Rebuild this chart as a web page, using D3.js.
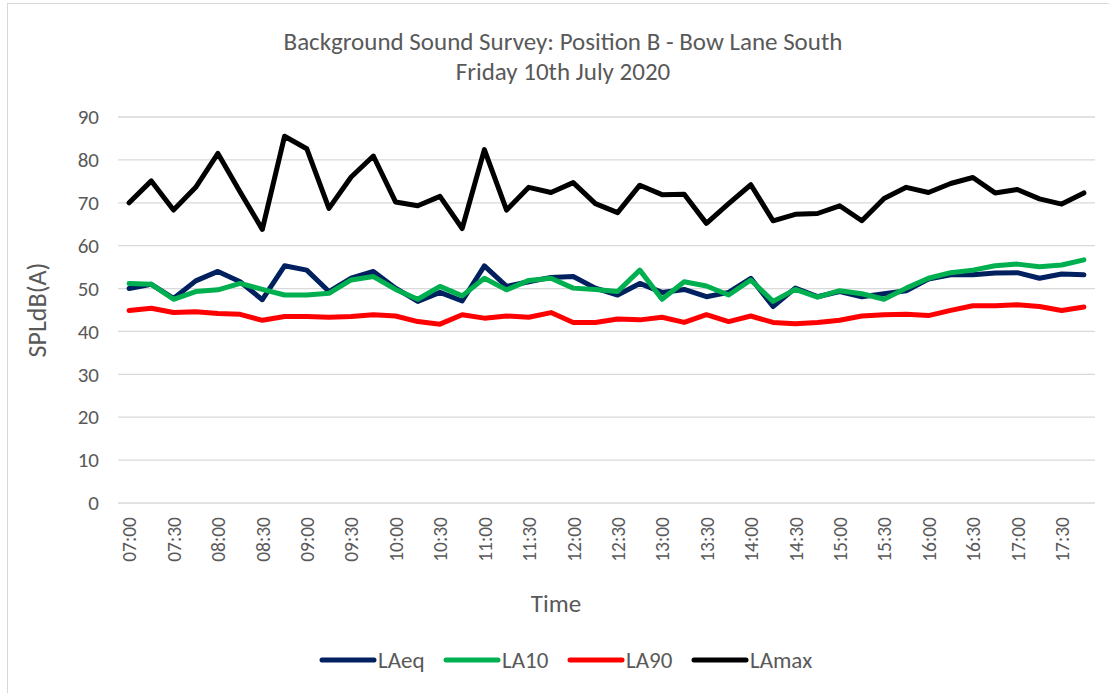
<!DOCTYPE html>
<html><head><meta charset="utf-8">
<script src="https://cdn.jsdelivr.net/npm/d3@7"></script>
<style>body{margin:0;background:#fff}svg{display:block}</style>
</head><body>
<svg id="c" width="1109" height="693"></svg>
<script>
const times = ["07:00","07:15","07:30","07:45","08:00","08:15","08:30","08:45","09:00","09:15","09:30","09:45",
"10:00","10:15","10:30","10:45","11:00","11:15","11:30","11:45","12:00","12:15","12:30","12:45",
"13:00","13:15","13:30","13:45","14:00","14:15","14:30","14:45","15:00","15:15","15:30","15:45",
"16:00","16:15","16:30","16:45","17:00","17:15","17:30","17:45"];
const LAeq = [50,51,47.7,51.8,54,51.6,47.4,55.3,54.3,49.3,52.4,54,50.1,47,49.1,47.1,55.3,50.5,51.6,52.6,52.8,50.1,48.5,51.2,
49.1,49.8,48.1,49.1,52.4,45.8,50.1,48.1,49.3,48.1,48.8,49.5,52.2,53.2,53.2,53.6,53.7,52.4,53.4,53.2];
const LA10 = [51.2,51,47.5,49.3,49.7,51.2,49.8,48.5,48.5,48.9,52,52.8,49.8,47.5,50.5,48.3,52.4,49.7,51.9,52.4,50.1,49.8,49.3,54.3,
47.5,51.6,50.6,48.5,52,47,49.8,48,49.5,48.8,47.5,50.1,52.4,53.7,54.3,55.3,55.7,55.1,55.5,56.7];
const LA90 = [44.9,45.4,44.4,44.6,44.2,44,42.6,43.5,43.5,43.3,43.5,43.9,43.6,42.3,41.7,43.9,43.1,43.6,43.3,44.4,42.1,42.1,42.9,42.7,
43.3,42.1,43.9,42.3,43.6,42.1,41.8,42.1,42.6,43.6,43.9,44,43.7,44.9,46,46,46.2,45.8,44.9,45.7];
const LAmax = [70,75.1,68.3,73.6,81.5,72.5,63.8,85.5,82.6,68.7,76,80.9,70.2,69.3,71.5,64,82.4,68.3,73.6,72.4,74.7,69.8,67.7,74.1,
71.9,72,65.2,69.8,74.2,65.8,67.3,67.5,69.3,65.8,71,73.6,72.4,74.5,75.9,72.3,73.1,70.9,69.7,72.3];
const yTicks = [0,10,20,30,40,50,60,70,80,90];
const seriesNames = ["LAeq","LA10","LA90","LAmax"];
const seriesData = [LAeq, LA10, LA90, LAmax];
const colors = ["#002060","#00B050","#FF0000","#000000"];

const FONT = "Carlito, Calibri, Lato, 'Open Sans', sans-serif";
const TXT = "#595959";
const svg = d3.select("#c").style("font-family", FONT);

svg.append("rect").attr("x",7.5).attr("y",3.5).attr("width",1110).attr("height",700)
  .attr("fill","#fff").attr("stroke","#d9d9d9");

const L = 118, R = 1095, T = 117, B = 503;
const x = d3.scalePoint().domain(times).range([L, R]).padding(0.5);
const y = d3.scaleLinear().domain([0, 90]).range([B, T]);

// gridlines
svg.append("g").selectAll("line").data(yTicks).join("line")
  .attr("x1", L).attr("x2", R).attr("y1", d => y(d)).attr("y2", d => y(d))
  .attr("stroke", "#d9d9d9").attr("stroke-width", 1.3);

// y axis
const ya = svg.append("g").attr("transform", `translate(${L},0)`)
  .call(d3.axisLeft(y).tickValues(yTicks).tickSize(0).tickPadding(19));
ya.select(".domain").remove();
ya.selectAll("text").attr("fill", TXT).style("font-size", "21px").style("font-family", FONT);

// x axis labels
const xa = svg.append("g").attr("transform", `translate(0,${B})`)
  .call(d3.axisBottom(x).tickValues(times.filter((d, i) => i % 2 === 0)).tickSize(0));
xa.select(".domain").remove();
xa.selectAll("text").attr("fill", TXT).style("font-size", "19.5px").style("font-family", FONT)
  .attr("text-anchor", "end").attr("transform", "rotate(-90)")
  .attr("x", -14).attr("y", 0).attr("dy", "0.35em");

// lines
const line = d3.line().x((d, i) => x(times[i])).y(d => y(d));
seriesData.forEach((s, k) => {
  svg.append("path").datum(s).attr("d", line).attr("fill", "none")
    .attr("stroke", colors[k]).attr("stroke-width", 5)
    .attr("stroke-linejoin", "round").attr("stroke-linecap", "round");
});

// titles
svg.append("text").attr("x", 563).attr("y", 50).attr("text-anchor", "middle")
  .attr("fill", TXT).style("font-size", "25px").text("Background Sound Survey: Position B - Bow Lane South");
svg.append("text").attr("x", 563).attr("y", 80).attr("text-anchor", "middle")
  .attr("fill", TXT).style("font-size", "25px").text("Friday 10th July 2020");
svg.append("text").attr("transform", "translate(46,310) rotate(-90)").attr("text-anchor", "middle")
  .attr("fill", TXT).style("font-size", "26px").text("SPLdB(A)");
svg.append("text").attr("x", 556).attr("y", 612).attr("text-anchor", "middle")
  .attr("fill", TXT).style("font-size", "25px").text("Time");

// legend
const legX = [322, 446, 570, 694];
const lg = svg.append("g");
seriesNames.forEach((n, k) => {
  lg.append("line").attr("x1", legX[k]).attr("x2", legX[k] + 52).attr("y1", 660).attr("y2", 660)
    .attr("stroke", colors[k]).attr("stroke-width", 5).attr("stroke-linecap", "round");
  lg.append("text").attr("x", legX[k] + 56).attr("y", 668).attr("fill", TXT)
    .style("font-size", "23px").text(n);
});
</script>
</body></html>
